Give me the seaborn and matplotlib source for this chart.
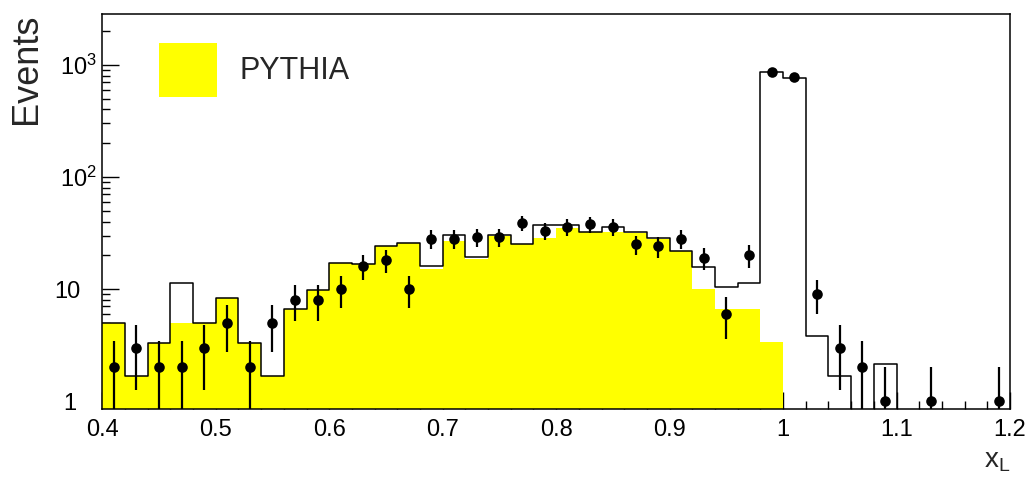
import numpy as np
import pandas as pd
import matplotlib
matplotlib.use("Agg")
import matplotlib.pyplot as plt
import matplotlib.transforms as mtransforms
import seaborn as sns
from matplotlib.patches import Patch
from matplotlib.ticker import FixedLocator, FixedFormatter, LogLocator, NullFormatter, MultipleLocator

# ---------------- data (40 bins of width 0.02 from 0.40 to 1.20) ----------------
bin_low = 0.40
bin_high = 1.20
n_bins = 40

# total Monte Carlo (black outline)
mc_total = [5.0, 1.68, 3.32, 11.3, 5.0, 8.3, 3.32, 1.68, 6.6, 9.9,
            17.0, 16.8, 24.0, 25.5, 15.9, 30.1, 19.4, 30.1, 25.2, 37.5,
            37.0, 32.1, 35.7, 32.0, 28.7, 21.8, 15.8, 10.4, 11.4, 867.0,
            767.0, 3.84, 1.69, 0.0, 2.15, 0.0, 0.0, 0.0, 0.0, 0.0]

# PYTHIA (yellow filled)
pythia = [5.0, 1.68, 3.32, 5.0, 5.0, 8.3, 3.32, 1.68, 6.6, 9.9,
          17.0, 16.8, 24.0, 25.5, 15.2, 26.6, 18.7, 30.0, 25.2, 28.5,
          35.2, 32.1, 32.0, 31.4, 27.9, 21.8, 10.0, 6.7, 6.7, 3.36,
          0.0, 0.0, 0.0, 0.0, 0.0, 0.0, 0.0, 0.0, 0.0, 0.0]

# data events
data_counts = [2, 3, 2, 2, 3, 5, 2, 5, 8, 8,
               10, 16, 18, 10, 28, 28, 29, 29, 39, 33,
               36, 38, 36, 25, 24, 28, 19, 6, 20, 860,
               785, 9, 3, 2, 1, 0, 1, 0, 0, 1]

x_tick_values = [0.4, 0.5, 0.6, 0.7, 0.8, 0.9, 1.0, 1.1, 1.2]
x_tick_labels = ["0.4", "0.5", "0.6", "0.7", "0.8", "0.9", "1", "1.1", "1.2"]
y_tick_values = [1, 10, 100, 1000]
y_tick_labels = ["1", "10", r"$10^{2}$", r"$10^{3}$"]

legend_label = "PYTHIA"
x_title = r"$\mathrm{x}_{\mathrm{L}}$"
y_title = "Events"

# ---------------- derived ----------------
width = (bin_high - bin_low) / n_bins
centers = bin_low + width * (np.arange(n_bins) + 0.5)
df = pd.DataFrame({"xL": centers, "mc": mc_total, "pythia": pythia,
                   "data": np.array(data_counts, dtype=float)})

# ---------------- style ----------------
sns.set_style("ticks")
plt.rcParams["font.family"] = ["Liberation Sans", "DejaVu Sans"]
plt.rcParams["mathtext.fontset"] = "custom"
plt.rcParams["mathtext.rm"] = "Liberation Sans"
plt.rcParams["mathtext.it"] = "Liberation Sans:italic"
plt.rcParams["mathtext.bf"] = "Liberation Sans:bold"

fig = plt.figure(figsize=(10.29, 4.78), dpi=100)
ax = fig.add_axes([0.0994, 0.1437, 0.8821, 0.8270])
ax.set_yscale("log")

yellow = "#ffff00"

sns.histplot(data=df, x="xL", weights="pythia", bins=n_bins, binrange=(bin_low, bin_high),
             element="step", fill=True, color=yellow, alpha=1.0, linewidth=0,
             ax=ax, legend=False)
sns.histplot(data=df, x="xL", weights="mc", bins=n_bins, binrange=(bin_low, bin_high),
             element="step", fill=False, color="black", linewidth=1.1,
             ax=ax, legend=False)

dd = df[df["data"] > 0]
err = np.sqrt(dd["data"].to_numpy())
ax.errorbar(dd["xL"], dd["data"], yerr=[err, err], fmt="none", ecolor="black",
            elinewidth=1.6, capsize=0, zorder=4)
sns.scatterplot(data=dd, x="xL", y="data", color="black", s=58,
                linewidth=0, ax=ax, zorder=5, legend=False)

ax.set_xlim(bin_low, bin_high)
ax.set_ylim(0.845, 2840)

ax.xaxis.set_major_locator(FixedLocator(x_tick_values))
ax.xaxis.set_major_formatter(FixedFormatter(x_tick_labels))
ax.xaxis.set_minor_locator(MultipleLocator(0.02))
ax.yaxis.set_major_locator(FixedLocator(y_tick_values))
ax.yaxis.set_major_formatter(FixedFormatter(y_tick_labels))
ax.yaxis.set_minor_locator(LogLocator(base=10, subs=np.arange(2, 10)))
ax.yaxis.set_minor_formatter(NullFormatter())

ax.tick_params(which="both", direction="in", top=False, right=False, width=1.0, colors="black")
ax.tick_params(which="major", length=12, labelsize=17, pad=7)
ax.tick_params(axis="y", which="major", pad=4, labelsize=17)
ax.tick_params(which="minor", length=6)

for s in ax.spines.values():
    s.set_linewidth(1.1)
    s.set_color("black")

ax.set_ylabel(y_title, fontsize=26, loc="top", labelpad=7)
ax.set_xlabel(x_title, fontsize=20, loc="right", labelpad=5)

handle = Patch(facecolor=yellow, edgecolor="none")
ax.legend([handle], [legend_label], loc="upper left", bbox_to_anchor=(0.0625, 0.9266),
          frameon=False, fontsize=22, handlelength=1.9, handleheight=2.34,
          handletextpad=0.75, borderpad=0, borderaxespad=0)

# ROOT-style: plain "1" and "10" labels sit left, aligned with the base of 10^n labels
fig.canvas.draw()
shifts = {"1": -15.0, "10": -12.0}
for lbl in ax.get_yticklabels():
    t = lbl.get_text()
    if t in shifts:
        off = mtransforms.ScaledTranslation(shifts[t] / 72.0, 0, fig.dpi_scale_trans)
        lbl.set_transform(lbl.get_transform() + off)

fig.savefig("out.png", dpi=100)
